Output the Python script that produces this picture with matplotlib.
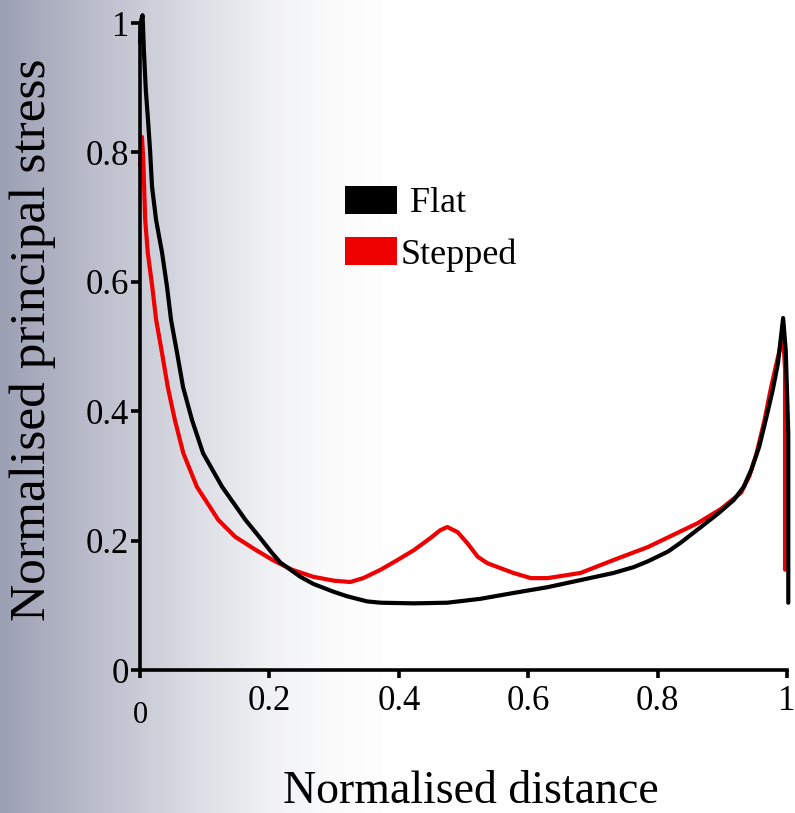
import numpy as np
import matplotlib
matplotlib.use('Agg')
import matplotlib.pyplot as plt
from matplotlib.patches import Patch

plt.rcParams['font.family'] = ['Liberation Serif', 'DejaVu Serif']

# Normalised distance / stress values
flat_x = [0.0, 0.002, 0.004, 0.006, 0.009, 0.0124, 0.0155, 0.0186, 0.0248, 0.0341, 0.0418,
          0.048, 0.0573, 0.0666, 0.0805, 0.0975, 0.127, 0.163, 0.185, 0.204, 0.217, 0.248,
          0.268, 0.299, 0.320, 0.351, 0.372, 0.423, 0.475, 0.526, 0.577, 0.630, 0.681,
          0.732, 0.763, 0.785, 0.816, 0.836, 0.867, 0.895, 0.918, 0.933, 0.945, 0.957,
          0.968, 0.978, 0.986, 0.994, 0.998, 1.002, 1.002]
flat_y = [0.97, 1.005, 1.012, 0.958, 0.896, 0.850, 0.804, 0.747, 0.696, 0.645, 0.592,
          0.541, 0.490, 0.437, 0.386, 0.335, 0.283, 0.232, 0.205, 0.181, 0.166, 0.144,
          0.133, 0.121, 0.114, 0.106, 0.104, 0.103, 0.104, 0.110, 0.119, 0.128, 0.139,
          0.150, 0.159, 0.168, 0.183, 0.197, 0.221, 0.243, 0.263, 0.283, 0.310, 0.345,
          0.390, 0.433, 0.474, 0.544, 0.495, 0.366, 0.104]

stepped_x = [0.0, 0.003, 0.005, 0.008, 0.012, 0.019, 0.025, 0.034, 0.043, 0.054, 0.067,
             0.088, 0.121, 0.147, 0.175, 0.205, 0.235, 0.268, 0.300, 0.325, 0.345, 0.372,
             0.398, 0.423, 0.449, 0.464, 0.475, 0.491, 0.506, 0.522, 0.537, 0.577, 0.604,
             0.630, 0.681, 0.732, 0.785, 0.862, 0.898, 0.929, 0.942, 0.953, 0.965, 0.975,
             0.984, 0.990, 0.993, 0.995, 0.997, 0.997]
stepped_y = [0.78, 0.824, 0.79, 0.696, 0.645, 0.592, 0.541, 0.490, 0.437, 0.386, 0.335,
             0.283, 0.232, 0.206, 0.188, 0.170, 0.155, 0.144, 0.138, 0.136, 0.142, 0.155,
             0.170, 0.185, 0.204, 0.216, 0.221, 0.213, 0.196, 0.175, 0.165, 0.150, 0.142,
             0.142, 0.150, 0.170, 0.190, 0.227, 0.249, 0.274, 0.300, 0.335, 0.385, 0.435,
             0.475, 0.500, 0.505, 0.500, 0.464, 0.155]

ticks = [0, 0.2, 0.4, 0.6, 0.8, 1]
x_tick_labels = ['', '0.2', '0.4', '0.6', '0.8', '1']
y_tick_labels = ['0', '0.2', '0.4', '0.6', '0.8', '1']

fig = plt.figure(figsize=(7.95, 8.13), dpi=100)

# grey-blue to white background gradient
bg = fig.add_axes([0, 0, 1, 1], zorder=-10)
px = np.arange(795)
stops_px = [0, 140, 200, 267, 330, 400]
stops_t = [0.0, 0.46, 0.66, 0.85, 0.96, 1.0]
t = np.interp(px, stops_px, stops_t)
left_col = np.array([156, 160, 180]) / 255.0
grad = left_col[None, :] + (1 - left_col[None, :]) * t[:, None]
bg.imshow(grad[None, :, :], aspect='auto', extent=[0, 1, 0, 1])
bg.axis('off')

ax = fig.add_axes([140 / 795, 143 / 813, 647 / 795, 647 / 813])
ax.set_facecolor('none')

ax.plot(stepped_x, stepped_y, color='#ee0000', lw=3, clip_on=False,
        solid_capstyle='round', solid_joinstyle='round')
ax.plot(flat_x, flat_y, color='black', lw=3, clip_on=False,
        solid_capstyle='round', solid_joinstyle='round')

ax.set_xlim(0, 1)
ax.set_ylim(0, 1)
ax.spines['top'].set_visible(False)
ax.spines['right'].set_visible(False)
ax.spines['left'].set_linewidth(2.6)
ax.spines['bottom'].set_linewidth(2.6)

ax.set_xticks(ticks)
ax.set_xticklabels(x_tick_labels)
ax.set_yticks(ticks)
ax.set_yticklabels(y_tick_labels)
ax.tick_params(axis='x', direction='out', length=6, width=2.6, pad=5, labelsize=25)
ax.tick_params(axis='y', direction='out', length=6.5, width=2.6, pad=1.5, labelsize=25)

# the 0 on the x axis sits a little lower than the others
ax.text(0, -0.07, '0', transform=ax.transData, ha='center', va='center', fontsize=22)

fig.text(471 / 795, 1 - 803 / 813, 'Normalised distance', ha='center', va='baseline',
         fontsize=33)
fig.text(33 / 795, 1 - 340 / 813, 'Normalised principal stress', ha='center', va='center',
         rotation=90, fontsize=37)

handles = [Patch(facecolor='black', edgecolor='none'),
           Patch(facecolor='#ee0000', edgecolor='none')]
ax.legend(handles, [' Flat', 'Stepped'], loc='upper left',
          bbox_to_anchor=(345 / 795, 1 - 186 / 813), bbox_transform=fig.transFigure,
          frameon=False, fontsize=26, borderpad=0, borderaxespad=0,
          handlelength=1.45, handleheight=0.8, handletextpad=0.1, labelspacing=0.47)

fig.savefig('out.png', dpi=100)
